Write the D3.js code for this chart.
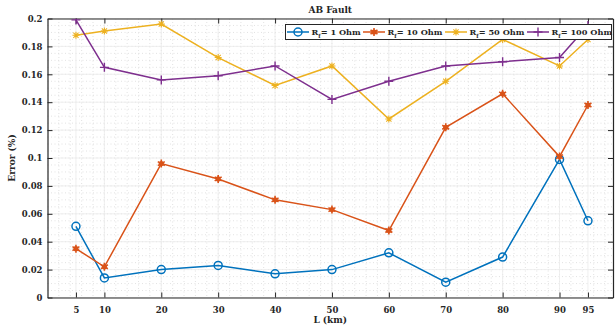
<!DOCTYPE html>
<html>
<head>
<meta charset="utf-8">
<script src="https://cdn.jsdelivr.net/npm/d3@7"></script>
<style>
  body { margin: 0; background: #fff; }
  text { font-family: "DejaVu Serif", serif; font-weight: bold; fill: #262626; }
</style>
</head>
<body>
<svg id="chart" width="615" height="330"></svg>
<script>
// data
let lengths = [5, 10, 20, 30, 40, 50, 60, 70, 80, 90, 95];
let err1   = [0.051, 0.014, 0.020, 0.023, 0.017, 0.020, 0.032, 0.011, 0.029, 0.099, 0.055];
let err10  = [0.035, 0.022, 0.096, 0.085, 0.070, 0.063, 0.048, 0.122, 0.146, 0.101, 0.138];
let err50  = [0.188, 0.191, 0.196, 0.172, 0.152, 0.166, 0.128, 0.155, 0.185, 0.166, 0.185];
let err100 = [0.199, 0.165, 0.156, 0.159, 0.166, 0.142, 0.155, 0.166, 0.169, 0.172, 0.195];
let seriesNames = ["1 Ohm", "10 Ohm", "50 Ohm", "100 Ohm"];
let yTicks = [0, 0.02, 0.04, 0.06, 0.08, 0.1, 0.12, 0.14, 0.16, 0.18, 0.2];

let colors = ["#0072BD", "#D95319", "#EDB120", "#7E2F8E"];
let markers = ["circle", "star", "asterisk", "plus"];

let mLeft = 47.5, mRight = 613, mTop = 18.5, mBottom = 297.5;
let width = mRight - mLeft, height = mBottom - mTop;

let svg = d3.select("#chart");

let x = d3.scaleLinear().domain([0, 99.4]).range([mLeft, mRight]);
let y = d3.scaleLinear().domain([0, 0.2]).range([mBottom, mTop]);

// minor grid (dotted)
let g = svg.append("g");
g.selectAll(".mx")
  .data(d3.range(2, 99.4, 2))
.enter().append("line")
  .attr("x1", d => x(d)).attr("x2", d => x(d))
  .attr("y1", mTop).attr("y2", mBottom)
  .attr("stroke", "#cfcfcf").attr("stroke-width", 0.6)
  .attr("stroke-dasharray", "1,2.5");
g.selectAll(".my")
  .data(d3.range(0.005, 0.2, 0.005))
.enter().append("line")
  .attr("x1", mLeft).attr("x2", mRight)
  .attr("y1", d => y(d)).attr("y2", d => y(d))
  .attr("stroke", "#cfcfcf").attr("stroke-width", 0.6)
  .attr("stroke-dasharray", "1,2.5");

// major grid
g.selectAll(".gx")
  .data(lengths)
.enter().append("line")
  .attr("x1", d => x(d)).attr("x2", d => x(d))
  .attr("y1", mTop).attr("y2", mBottom)
  .attr("stroke", "#ebebeb").attr("stroke-width", 0.8);
g.selectAll(".gy")
  .data(yTicks)
.enter().append("line")
  .attr("x1", mLeft).attr("x2", mRight)
  .attr("y1", d => y(d)).attr("y2", d => y(d))
  .attr("stroke", "#ebebeb").attr("stroke-width", 0.8);

// axes, ticks pointing inward
let fmt = d => d === 0 ? "0" : d3.format(".2~f")(d);

let xAxis = svg.append("g")
  .attr("transform", "translate(0," + mBottom + ")")
  .call(d3.axisBottom(x).tickValues(lengths).tickSize(-5).tickPadding(9).tickSizeOuter(0));
let xTop = svg.append("g")
  .attr("transform", "translate(0," + mTop + ")")
  .call(d3.axisTop(x).tickValues(lengths).tickSize(-5).tickFormat("").tickSizeOuter(0));
let yAxis = svg.append("g")
  .attr("transform", "translate(" + mLeft + ",0)")
  .call(d3.axisLeft(y).tickValues(yTicks).tickFormat(fmt).tickSize(-5).tickPadding(5).tickSizeOuter(0));
let yRight = svg.append("g")
  .attr("transform", "translate(" + mRight + ",0)")
  .call(d3.axisRight(y).tickValues(yTicks).tickFormat("").tickSize(-5).tickSizeOuter(0));

[xAxis, xTop, yAxis, yRight].forEach(a => {
  a.select(".domain").attr("stroke", "#262626").attr("stroke-width", 1.2);
  a.selectAll(".tick line").attr("stroke", "#262626").attr("stroke-width", 1);
  a.selectAll("text").style("font-size", "8.5px").attr("fill", "#262626");
});

// labels
svg.append("text")
  .attr("x", (mLeft + mRight) / 2).attr("y", 13)
  .style("text-anchor", "middle").style("font-size", "9px")
  .text("AB Fault");
svg.append("text")
  .attr("x", (mLeft + mRight) / 2).attr("y", 323)
  .style("text-anchor", "middle").style("font-size", "9px")
  .text("L (km)");
svg.append("text")
  .attr("transform", "translate(15," + (mTop + mBottom) / 2 + ") rotate(-90)")
  .style("text-anchor", "middle").style("font-size", "9px")
  .text("Error (%)");

// marker drawing
function drawMarker(sel, type, color) {
  if (type === "circle") {
    sel.append("circle").attr("r", 4).attr("fill", "none")
      .attr("stroke", color).attr("stroke-width", 1.5);
  } else if (type === "star") {
    sel.append("circle").attr("r", 2.6).attr("fill", color);
    sel.append("path").attr("d", "M0,-4V4M-3.5,-2L3.5,2M-3.5,2L3.5,-2")
      .attr("stroke", color).attr("stroke-width", 1.6);
  } else if (type === "asterisk") {
    sel.append("path").attr("d", "M0,-3.5V3.5M-3.5,0H3.5M-2.6,-2.6L2.6,2.6M-2.6,2.6L2.6,-2.6")
      .attr("stroke", color).attr("stroke-width", 1.1);
  } else {
    sel.append("path").attr("d", "M0,-4.5V4.5M-4.5,0H4.5")
      .attr("stroke", color).attr("stroke-width", 1.4);
  }
}

svg.append("clipPath").attr("id", "plot-clip")
  .append("rect").attr("x", mLeft).attr("y", mTop).attr("width", width).attr("height", height);

let plot = svg.append("g").attr("clip-path", "url(#plot-clip)");
let line = d3.line().x(d => x(d.l)).y(d => y(d.e));

[err1, err10, err50, err100].forEach((vals, i) => {
  let pts = lengths.map((l, j) => ({ l: l, e: vals[j] }));
  plot.append("path").datum(pts)
    .attr("d", line).attr("fill", "none")
    .attr("stroke", colors[i]).attr("stroke-width", 1.5);
  pts.forEach(p => {
    let m = plot.append("g").attr("transform", "translate(" + x(p.l) + "," + y(p.e) + ")");
    drawMarker(m, markers[i], colors[i]);
  });
});

// legend
let legX = [287, 363, 445, 527];
let leg = svg.append("g");
leg.append("rect")
  .attr("x", 285.5).attr("y", 24.5).attr("width", 326).attr("height", 15)
  .attr("fill", "#fff").attr("stroke", "#262626").attr("stroke-width", 1);
seriesNames.forEach((name, i) => {
  let e = leg.append("g").attr("transform", "translate(" + legX[i] + ",32)");
  e.append("line").attr("x1", 0).attr("x2", 22)
    .attr("stroke", colors[i]).attr("stroke-width", 1.5);
  drawMarker(e.append("g").attr("transform", "translate(11,0)"), markers[i], colors[i]);
  let t = e.append("text").attr("x", 24.5).attr("y", 3).style("font-size", "8.2px");
  t.append("tspan").text("R");
  t.append("tspan").attr("dy", 2.5).style("font-size", "5.5px").text("f");
  t.append("tspan").attr("dy", -2.5).text("= " + name);
});
</script>
</body>
</html>
